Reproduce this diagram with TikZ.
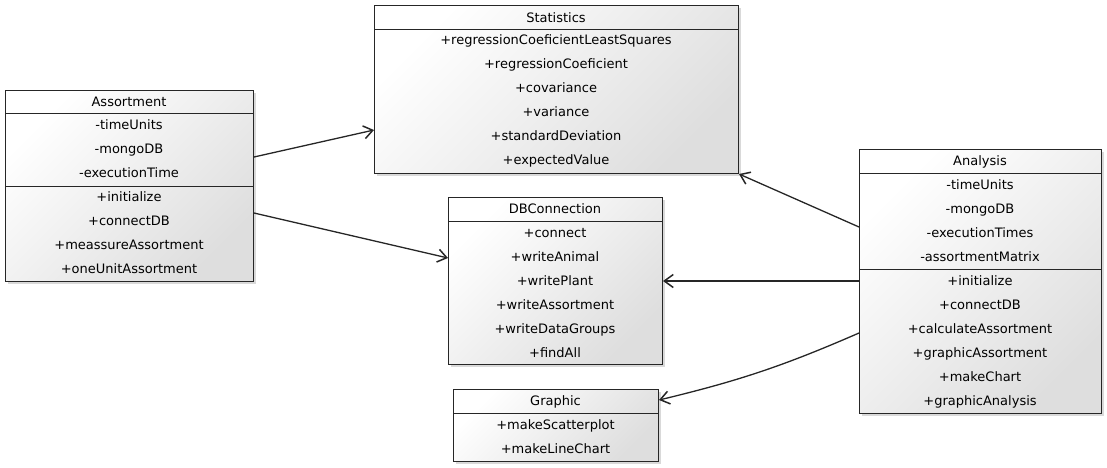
\documentclass[tikz,border=0pt]{standalone}
\usepackage{fontspec}
\setmainfont{DejaVu Sans}
\usepackage{tikz}
\usetikzlibrary{positioning,arrows.meta,shadows}

\tikzset{
  classbox/.style={draw=black!85, line width=1pt, anchor=north west, inner sep=0pt,
    top color=white, bottom color=black!13, shading angle=45,
    drop shadow={shadow xshift=2pt, shadow yshift=-2pt, opacity=0.3}},
  member/.style={inner sep=0pt, text height=10pt, text depth=0pt, font=\fontsize{13}{15}\selectfont},
  sepline/.style={draw=black!85, line width=0.8pt},
  dep/.style={->, line width=1.3pt, draw=black!85},
}

\begin{document}
\begin{tikzpicture}[x=1pt, y=-1pt, line width=1pt, >={Straight Barb[length=9pt,width=13pt,line width=1.5pt]}]
    \useasboundingbox (0,0) rectangle (1107,467);

    % Statistics
    \node[classbox, minimum width=364pt, minimum height=168pt] (stats) at (374,5) {};
    \draw[sepline] (stats.west |- 0,29) -- (stats.east |- 0,29);
    \node[member] (stats-title) at (556,17) {Statistics};
    \foreach \txt [count=\i] in {+regressionCoeficientLeastSquares, +regressionCoeficient,
        +covariance, +variance, +standardDeviation, +expectedValue}
        \node[member] (stats-\i) at (556,{15+24*\i}) {\txt};

    % Assortment
    \node[classbox, minimum width=248pt, minimum height=191pt] (assort) at (5,90) {};
    \draw[sepline] (assort.west |- 0,113) -- (assort.east |- 0,113);
    \draw[sepline] (assort.west |- 0,186) -- (assort.east |- 0,186);
    \node[member] (assort-title) at (129,101) {Assortment};
    \foreach \txt [count=\i] in {-timeUnits, -mongoDB, -executionTime}
        \node[member] (assort-a\i) at (129,{100+24*\i}) {\txt};
    \foreach \txt [count=\i] in {+initialize, +connectDB, +meassureAssortment, +oneUnitAssortment}
        \node[member] (assort-m\i) at (129,{172+24*\i}) {\txt};

    % DBConnection
    \node[classbox, minimum width=214pt, minimum height=167pt] (dbconn) at (448,197) {};
    \draw[sepline] (dbconn.west |- 0,221) -- (dbconn.east |- 0,221);
    \node[member] (dbconn-title) at (555,208) {DBConnection};
    \foreach \txt [count=\i] in {+connect, +writeAnimal, +writePlant, +writeAssortment,
        +writeDataGroups, +findAll}
        \node[member] (dbconn-\i) at (555,{208+24*\i}) {\txt};

    % Graphic
    \node[classbox, minimum width=205pt, minimum height=72pt] (graphic) at (453,389) {};
    \draw[sepline] (graphic.west |- 0,413) -- (graphic.east |- 0,413);
    \node[member] (graphic-title) at (555.5,400) {Graphic};
    \foreach \txt [count=\i] in {+makeScatterplot, +makeLineChart}
        \node[member] (graphic-\i) at (555.5,{400+24*\i}) {\txt};

    % Analysis
    \node[classbox, minimum width=242pt, minimum height=264pt] (analysis) at (859,149) {};
    \draw[sepline] (analysis.west |- 0,173) -- (analysis.east |- 0,173);
    \draw[sepline] (analysis.west |- 0,269) -- (analysis.east |- 0,269);
    \node[member] (analysis-title) at (980,160) {Analysis};
    \foreach \txt [count=\i] in {-timeUnits, -mongoDB, -executionTimes, -assortmentMatrix}
        \node[member] (analysis-a\i) at (980,{160+24*\i}) {\txt};
    \foreach \txt [count=\i] in {+initialize, +connectDB, +calculateAssortment,
        +graphicAssortment, +makeChart, +graphicAnalysis}
        \node[member] (analysis-m\i) at (980,{256+24*\i}) {\txt};

    % dependencies
    \draw[dep] (assort.east |- 0,157) -- (stats.west |- 0,130);
    \draw[dep] (assort.east |- 0,213) -- (dbconn.west |- 0,258);
    \draw[dep] (analysis.west |- 0,227) -- (stats.south east);
    \draw[dep] (analysis.west |- 0,281) -- (dbconn.east |- 0,281);
    \draw[dep] (analysis.west |- 0,333) to[bend left=5] (graphic.east |- 0,400);
\end{tikzpicture}
\end{document}
